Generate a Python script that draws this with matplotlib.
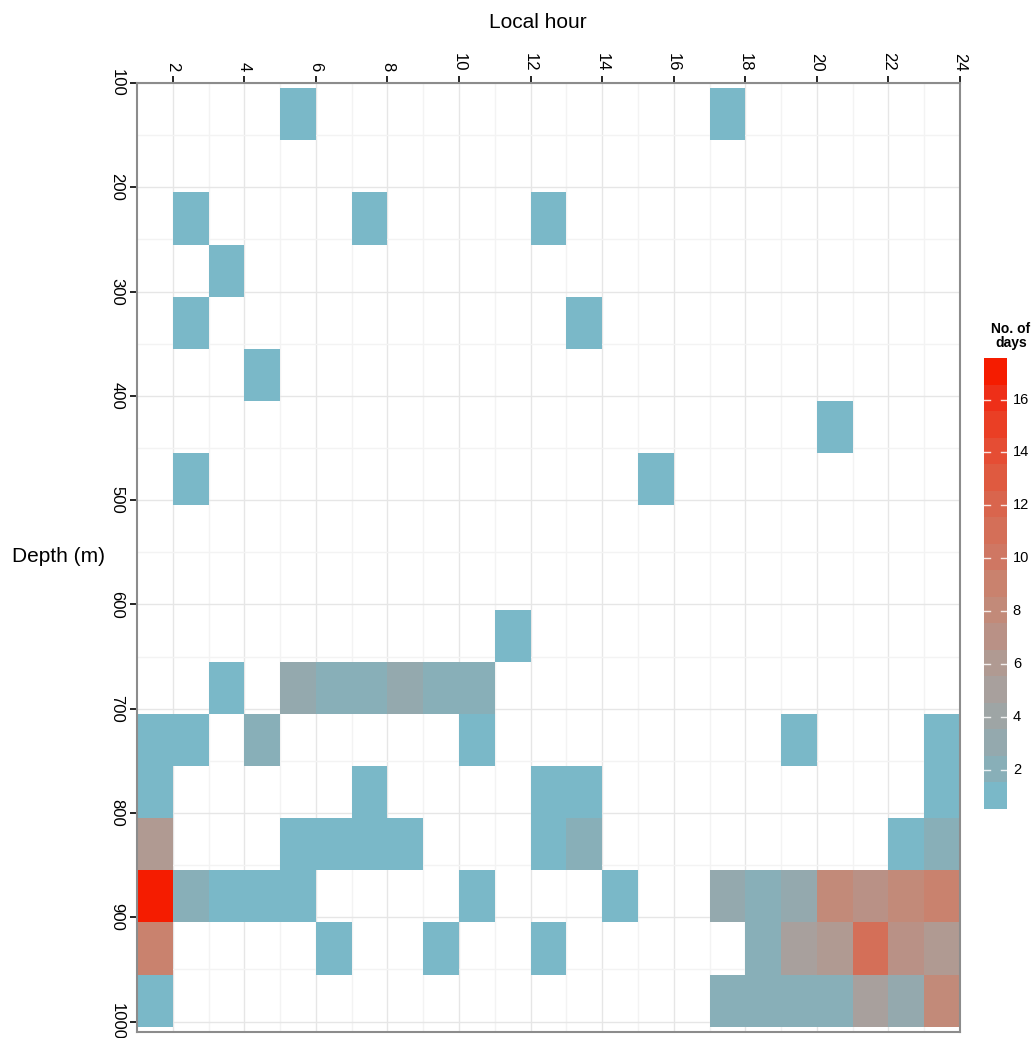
# depth vs local hour heatmap (number of days)
import numpy as np
import matplotlib.pyplot as plt
from matplotlib.colors import ListedColormap, BoundaryNorm

plt.rcParams["font.family"] = ["Liberation Sans", "DejaVu Sans"]

# ---- data ---------------------------------------------------------------
# hour bins (cell spans hour .. hour+1) and depth bins (centre, 50 m tall)
hours = list(range(1, 24))
depths = [130 + 50 * i for i in range(18)]

# non-empty cells: (hour, depth centre, number of days)
cell_hour = [
    5, 17,
    2, 7, 12,
    3,
    2, 13,
    4,
    20,
    2, 15,
    11,
    3, 5, 6, 7, 8, 9, 10,
    1, 2, 4, 10, 19, 23,
    1, 7, 12, 13, 23,
    1, 5, 6, 7, 8, 12, 13, 22, 23,
    1, 2, 3, 4, 5, 10, 14, 17, 18, 19, 20, 21, 22, 23,
    1, 6, 9, 12, 18, 19, 20, 21, 22, 23,
    1, 17, 18, 19, 20, 21, 22, 23,
]
cell_depth = (
    [130] * 2 + [230] * 3 + [280] + [330] * 2 + [380] + [430] + [480] * 2
    + [630] + [680] * 7 + [730] * 6 + [780] * 5 + [830] * 9 + [880] * 14
    + [930] * 10 + [980] * 8
)
cell_days = [
    1, 1,
    1, 1, 1,
    1,
    1, 1,
    1,
    1,
    1, 1,
    1,
    1, 3, 2, 2, 3, 2, 2,
    1, 1, 2, 1, 1, 1,
    1, 1, 1, 1, 1,
    6, 1, 1, 1, 1, 1, 2, 1, 2,
    17, 2, 1, 1, 1, 1, 1, 3, 2, 3, 8, 7, 8, 9,
    9, 1, 1, 1, 2, 5, 6, 11, 7, 6,
    1, 2, 2, 2, 2, 5, 3, 8,
]

# colour of each integer count (1 .. 17)
day_levels = list(range(1, 18))
day_colors = [
    "#7AB8C8", "#88AFB8", "#94A9AE", "#9EA5A5", "#A8A09D", "#B09A92",
    "#B99186", "#C28A79", "#C9826E", "#CF7763", "#D46F58", "#D9654D",
    "#DF5A40", "#E54D34", "#EA3F25", "#EE2F18", "#F51C00",
]
cbar_ticks = [2, 4, 6, 8, 10, 12, 14, 16]

# ---- build grid ---------------------------------------------------------
grid = np.full((len(depths), len(hours)), np.nan)
for h, d, n in zip(cell_hour, cell_depth, cell_days):
    grid[depths.index(d), hours.index(h)] = n
grid = np.ma.masked_invalid(grid)

x_edges = np.array(hours + [hours[-1] + 1], dtype=float)
y_edges = np.array([d - 25 for d in depths] + [depths[-1] + 25], dtype=float)

cmap = ListedColormap(day_colors)
norm = BoundaryNorm(np.arange(0.5, 18.5, 1.0), cmap.N)

# ---- figure -------------------------------------------------------------
W, H = 1033, 1038
fig = plt.figure(figsize=(W / 100, H / 100), dpi=100)
ax = fig.add_axes([137 / W, 1 - 1032 / H, (960 - 137) / W, (1032 - 83) / H])

# grid (drawn under tiles)
for x in range(2, 25, 2):
    ax.axvline(x, color="#E6E6E6", lw=1.0, zorder=0)
for x in range(3, 24, 2):
    ax.axvline(x, color="#F3F3F3", lw=1.0, zorder=0)
for y in range(100, 1001, 100):
    ax.axhline(y, color="#E6E6E6", lw=1.0, zorder=0)
for y in range(150, 1001, 100):
    ax.axhline(y, color="#F3F3F3", lw=1.0, zorder=0)

ax.pcolormesh(x_edges, y_edges, grid, cmap=cmap, norm=norm, zorder=1)

ax.set_xlim(1, 24)
ax.set_ylim(1010, 100)
ax.set_xticks(range(2, 25, 2))
ax.set_yticks(range(100, 1001, 100))
ax.xaxis.tick_top()
ax.tick_params(axis="x", top=True, bottom=False, labeltop=True, labelbottom=False,
               length=5, width=1.2, pad=3.5, labelsize=12, labelrotation=-90)
ax.tick_params(axis="y", left=True, right=False, length=5, width=1.2, pad=4,
               labelsize=12)
for lab in ax.get_yticklabels():
    lab.set_rotation(-90)
    lab.set_va("center")
    lab.set_ha("right")
for lab in ax.get_xticklabels():
    lab.set_ha("center")
    lab.set_va("bottom")
for sp in ax.spines.values():
    sp.set_color("#8C8C8C")
    sp.set_linewidth(1.5)

fig.text(538 / W, 1 - 22 / H, "Local hour", ha="center", va="center", fontsize=15)
fig.text(59 / W, 1 - 557 / H, "Depth (m)", ha="center", va="center", fontsize=15)

# ---- legend bar ---------------------------------------------------------
lo, hi = 0.53, 17.57
cax = fig.add_axes([984 / W, 1 - 809 / H, 23 / W, (809 - 358) / H])
bar_edges = np.linspace(lo, hi, len(day_levels) + 1)
cax.pcolormesh([0, 1], bar_edges, np.array(day_levels).reshape(-1, 1),
               cmap=cmap, norm=norm)
cax.set_xlim(0, 1)
cax.set_ylim(lo, hi)
for t in cbar_ticks:
    cax.plot([0, 0.25], [t, t], color="white", lw=1.0, alpha=0.85)
    cax.plot([0.75, 1], [t, t], color="white", lw=1.0, alpha=0.85)
    cax.text(1.25, t, str(t), ha="left", va="center", fontsize=10.5,
             clip_on=False)
cax.set_xticks([])
cax.set_yticks([])
for sp in cax.spines.values():
    sp.set_visible(False)

fig.text(1011 / W, 1 - 336 / H, "No. of\ndays", ha="center", va="center",
         fontsize=10, fontweight="bold", multialignment="center", linespacing=1.0)

fig.savefig("out.png", dpi=100)
